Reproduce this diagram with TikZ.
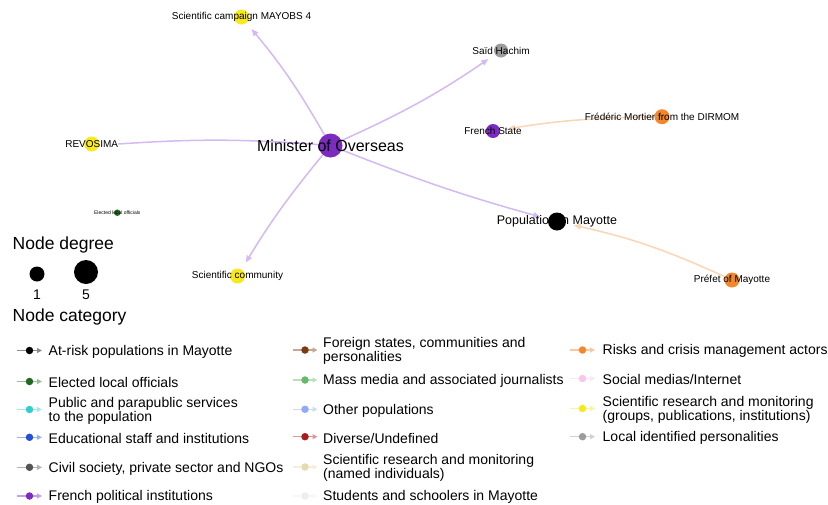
\documentclass[tikz,border=0pt]{standalone}
\usepackage{fontspec}
\setmainfont{Liberation Sans}
\usetikzlibrary{arrows.meta,backgrounds}

% edge colours
\definecolor{edgepurple}{HTML}{D5B9F2}
\definecolor{edgeorange}{HTML}{FBD6B5}
% category colours
\definecolor{cAtRisk}{HTML}{000000}
\definecolor{cElected}{HTML}{1E6B1E}
\definecolor{cPublic}{HTML}{2ECFD0}
\definecolor{cEduc}{HTML}{2450D8}
\definecolor{cCivil}{HTML}{555555}
\definecolor{cFrPol}{HTML}{7B2CBF}
\definecolor{cForeign}{HTML}{7A3B12}
\definecolor{cMedia}{HTML}{66BB6A}
\definecolor{cOtherPop}{HTML}{8EAAF8}
\definecolor{cDiverse}{HTML}{A81C1C}
\definecolor{cSciNamed}{HTML}{E5DBB2}
\definecolor{cStudents}{HTML}{ECEEF0}
\definecolor{cRisk}{HTML}{F5862A}
\definecolor{cSocial}{HTML}{F8C6EA}
\definecolor{cSciGroup}{HTML}{F7E91C}
\definecolor{cLocalPers}{HTML}{9C9C9C}

% one legend line: name, dot x, text x, y, colour, label
\newcommand{\catentry}[6]{%
  \coordinate (#1-from) at (#2-12.5,#4);
  \coordinate (#1-to) at (#2+12.5,#4);
  \draw[catline, #5!45!white] (#1-from) -- (#1-to);
  \node[catdot, fill=#5] (#1-dot) at (#2,#4) {};
  \node[cattext] (#1-text) at (#3,#4+1.3) {#6};
}

\begin{document}
\begin{tikzpicture}[x=1pt,y=-1pt,
  vertex/.style={circle,inner sep=0pt,minimum size=#1},
  vertex/.default=15pt,
  tag/.style={inner sep=0pt,font=\fontsize{10}{12}\selectfont},
  link/.style={line width=1.5pt,-{Triangle[length=7pt,width=5.5pt]},shorten >=8pt},
  plainlink/.style={line width=1.5pt},
  catline/.style={line width=1.3pt,-{Triangle[length=5pt,width=5pt]}},
  catdot/.style={circle,inner sep=0pt,minimum size=7.5pt},
  cattext/.style={anchor=west,inner sep=0pt,align=left,font=\fontsize{14}{11}\selectfont},
  headline/.style={anchor=base west,inner sep=0pt,font=\fontsize{17.5}{20}\selectfont},
]
\useasboundingbox (0,0) rectangle (828,504);

% ---- network nodes ----
\node[vertex=24pt, fill=cFrPol]     (min)      at (330.5,145.5) {};
\node[vertex,      fill=cSciGroup]  (mayobs)   at (241.5,17)    {};
\node[vertex=14pt, fill=cLocalPers] (said)     at (501,50.5)    {};
\node[vertex=14pt, fill=cFrPol]     (fstate)   at (493,131)     {};
\node[vertex,      fill=cRisk]      (mortier)  at (662,116.7)   {};
\node[vertex,      fill=cSciGroup]  (revosima) at (91.7,144)    {};
\node[vertex=6.5pt,fill=cElected]   (elected)  at (117.3,212.7) {};
\node[vertex=18pt, fill=cAtRisk]    (pop)      at (557,221.5)   {};
\node[vertex,      fill=cSciGroup]  (scicom)   at (237.5,276)   {};
\node[vertex,      fill=cRisk]      (prefet)   at (732,280)     {};

% ---- labels ----
\node[tag,font=\fontsize{16}{18}\selectfont] (min-l) at (min) {Minister of Overseas};
\node[tag] (mayobs-l) at (mayobs) {Scientific campaign MAYOBS 4};
\node[tag] (said-l) at (said) {Saïd Hachim};
\node[tag] (fstate-l) at (fstate) {French State};
\node[tag] (mortier-l) at (mortier) {Frédéric Mortier from the DIRMOM};
\node[tag] (revosima-l) at (revosima) {REVOSIMA};
\node[tag,font=\fontsize{5}{6}\selectfont] (elected-l) at (elected) {Elected local officials};
\node[tag,font=\fontsize{12.5}{14}\selectfont] (pop-l) at (pop) {Population in Mayotte};
\node[tag] (scicom-l) at (scicom) {Scientific community};
\node[tag] (prefet-l) at (prefet) {Préfet of Mayotte};

% ---- edges, under the nodes ----
\begin{pgfonlayer}{background}
  \fill[white] (0,0) rectangle (828,504);
  \draw[link, edgepurple] (min) to[bend right=5] (mayobs);
  \draw[link, edgepurple] (min) to[bend right=5] (said);
  \draw[link, edgepurple] (min) to[bend right=3] (pop);
  \draw[link, edgepurple] (min) to[bend right=4] (scicom);
  \draw[plainlink, edgepurple] (min) to[bend right=4] (revosima-l.east);
  \draw[link, edgeorange] (mortier) to[bend right=4] (fstate);
  \draw[link, edgeorange] (prefet) to[bend right=6] (pop);
\end{pgfonlayer}

% ---- node degree key ----
\node[headline] (deg-title) at (12.5,249) {Node degree};
\node[vertex, fill=black] (deg-one) at (37,274) {};
\node[vertex=24pt, fill=black] (deg-five) at (86,272) {};
\node[inner sep=0pt,font=\fontsize{14}{16}\selectfont] (deg-one-l) at (37,295) {1};
\node[inner sep=0pt,font=\fontsize{14}{16}\selectfont] (deg-five-l) at (86,295) {5};

% ---- node category key ----
\node[headline] (cat-title) at (12.5,321) {Node category};

\catentry{atrisk}{29.5}{48.5}{350.5}{cAtRisk}{At-risk populations in Mayotte}
\catentry{elected}{29.5}{48.5}{381.5}{cElected}{Elected local officials}
\catentry{public}{29.5}{48.5}{409.5}{cPublic}{Public and parapublic services\\to the population}
\catentry{educ}{29.5}{48.5}{437.3}{cEduc}{Educational staff and institutions}
\catentry{civil}{29.5}{48.5}{467.3}{cCivil}{Civil society, private sector and NGOs}
\catentry{frpol}{29.5}{48.5}{496}{cFrPol}{French political institutions}

\catentry{foreign}{305}{323}{350}{cForeign}{Foreign states, communities and\\personalities}
\catentry{media}{305}{323}{380}{cMedia}{Mass media and associated journalists}
\catentry{otherpop}{305}{323}{409.3}{cOtherPop}{Other populations}
\catentry{diverse}{305}{323}{436.7}{cDiverse}{Diverse/Undefined}
\catentry{scinamed}{305}{323}{467}{cSciNamed}{Scientific research and monitoring\\(named individuals)}
\catentry{students}{305}{323}{496}{cStudents}{Students and schoolers in Mayotte}

\catentry{risk}{582.5}{602.5}{350}{cRisk}{Risks and crisis management actors}
\catentry{social}{582.5}{602.5}{378.5}{cSocial}{Social medias/Internet}
\catentry{scigroup}{582.5}{602.5}{408.5}{cSciGroup}{Scientific research and monitoring\\(groups, publications, institutions)}
\catentry{localpers}{582.5}{602.5}{436.7}{cLocalPers}{Local identified personalities}
\end{tikzpicture}
\end{document}
